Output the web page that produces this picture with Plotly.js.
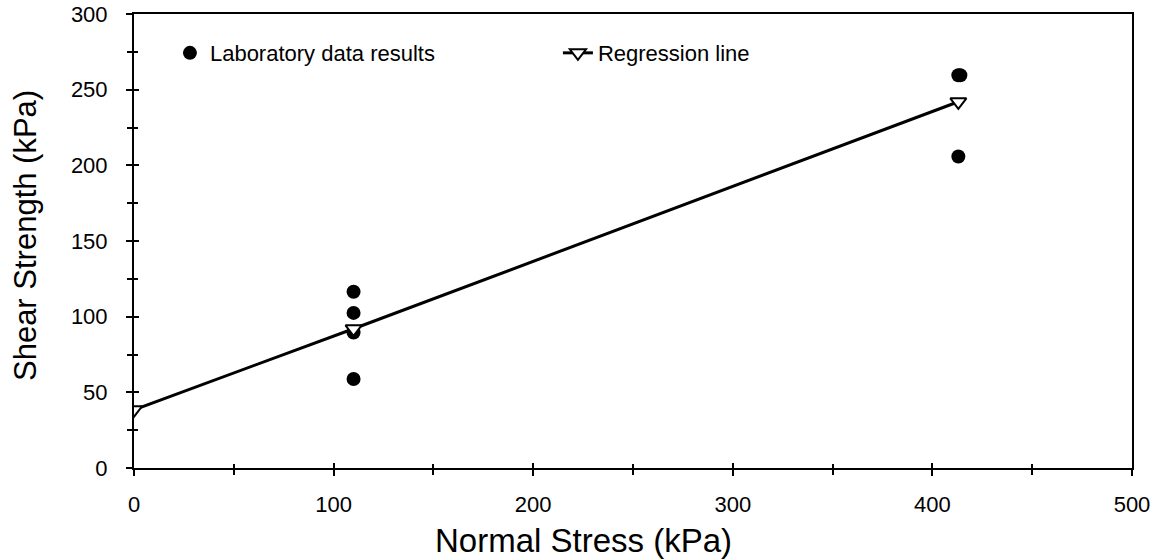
<!DOCTYPE html>
<html>
<head>
<meta charset="utf-8">
<script src="https://cdn.plot.ly/plotly-3.0.1.min.js"></script>
<style>html,body{margin:0;padding:0;background:#fff;}#chart{width:1154px;height:560px;}</style>
</head>
<body>
<div id="chart"></div>
<script>
// Laboratory data (Normal stress kPa, Shear strength kPa)
const labStress = [110, 110, 110, 110, 413, 414, 413];
const labShear  = [116.5, 102.5, 89.5, 58.8, 259.5, 259.5, 205.8];
// Regression line points
const regStress = [0, 110, 413];
const regShear  = [38.5, 92, 242];

const xTickVals = [0, 100, 200, 300, 400, 500];
const yTickVals = [0, 50, 100, 150, 200, 250, 300];
const xTitle = 'Normal Stress (kPa)';
const yTitle = 'Shear Strength (kPa)';

const font = 'Liberation Sans, Arial, sans-serif';

const traces = [
  {
    x: labStress, y: labShear, type: 'scatter', mode: 'markers',
    name: 'Laboratory data results',
    marker: {symbol: 'circle', size: 14, color: '#000'}
  },
  {
    x: regStress, y: regShear, type: 'scatter', mode: 'lines+markers',
    name: 'Regression line',
    line: {color: '#000', width: 3},
    marker: {symbol: 'triangle-down', size: 14, color: '#fff', line: {color: '#000', width: 2}}
  },
  { x: [250], y: [-50], xaxis: 'x2', yaxis: 'y2', mode: 'markers', marker: {size: 0, opacity: 0},
    showlegend: false, hoverinfo: 'skip', type: 'scatter' }
];

const layout = {
  width: 1154, height: 560,
  margin: {l: 134, r: 22, t: 14, b: 92},
  paper_bgcolor: '#fff', plot_bgcolor: '#fff',
  font: {family: font, color: '#000', size: 22},
  showlegend: true,
  legend: {
    orientation: 'h', x: 0.036, y: 0.914, xanchor: 'left', yanchor: 'middle',
    font: {family: font, size: 22, color: '#000'},
    bgcolor: 'rgba(0,0,0,0)', entrywidth: 343, entrywidthmode: 'pixels'
  },
  annotations: [
    {text: xTitle, xref: 'paper', yref: 'paper', x: 0.45, y: -0.1586,
     xanchor: 'center', yanchor: 'middle', showarrow: false,
     font: {family: font, size: 33, color: '#000'}},
    {text: yTitle, xref: 'paper', yref: 'paper', x: -0.1092, y: 0.511, textangle: -90,
     xanchor: 'center', yanchor: 'middle', showarrow: false,
     font: {family: font, size: 31, color: '#000'}}
  ],
  xaxis: {
    range: [0, 500], tickvals: xTickVals, ticktext: xTickVals.map(String),
    showgrid: false, zeroline: false, automargin: false,
    showline: true, linecolor: '#000', linewidth: 2, mirror: true,
    ticks: 'outside', ticklen: 6, tickcolor: '#000', tickwidth: 2,
    ticklabelstandoff: 10,
    minor: {dtick: 50, tick0: 0, ticks: 'outside', ticklen: 5, tickcolor: '#000', tickwidth: 2},
    tickfont: {family: font, size: 22, color: '#000'}
  },
  yaxis: {
    range: [0, 300], tickvals: yTickVals, ticktext: yTickVals.map(String),
    showgrid: false, zeroline: false, automargin: false,
    showline: true, linecolor: '#000', linewidth: 2, mirror: true,
    ticks: 'outside', ticklen: 6, tickcolor: '#000', tickwidth: 2,
    ticklabelstandoff: 14,
    minor: {dtick: 25, tick0: 0, ticks: 'outside', ticklen: 5, tickcolor: '#000', tickwidth: 2},
    tickfont: {family: font, size: 22, color: '#000'}
  },
  xaxis2: {
    overlaying: 'x', anchor: 'y', side: 'bottom', range: [0, 500], automargin: false,
    tickvals: xTickVals, showticklabels: false, showgrid: false, zeroline: false, showline: false,
    ticks: 'inside', ticklen: 5, tickcolor: '#000', tickwidth: 2,
    minor: {dtick: 50, tick0: 0, ticks: 'inside', ticklen: 4, tickcolor: '#000', tickwidth: 2}
  },
  yaxis2: {
    overlaying: 'y', anchor: 'x', side: 'left', range: [0, 300], automargin: false,
    tickvals: yTickVals, showticklabels: false, showgrid: false, zeroline: false, showline: false,
    ticks: 'inside', ticklen: 5, tickcolor: '#000', tickwidth: 2,
    minor: {dtick: 25, tick0: 0, ticks: 'inside', ticklen: 4, tickcolor: '#000', tickwidth: 2}
  }
};

Plotly.newPlot('chart', traces, layout, {displayModeBar: false, staticPlot: true});
</script>
</body>
</html>
